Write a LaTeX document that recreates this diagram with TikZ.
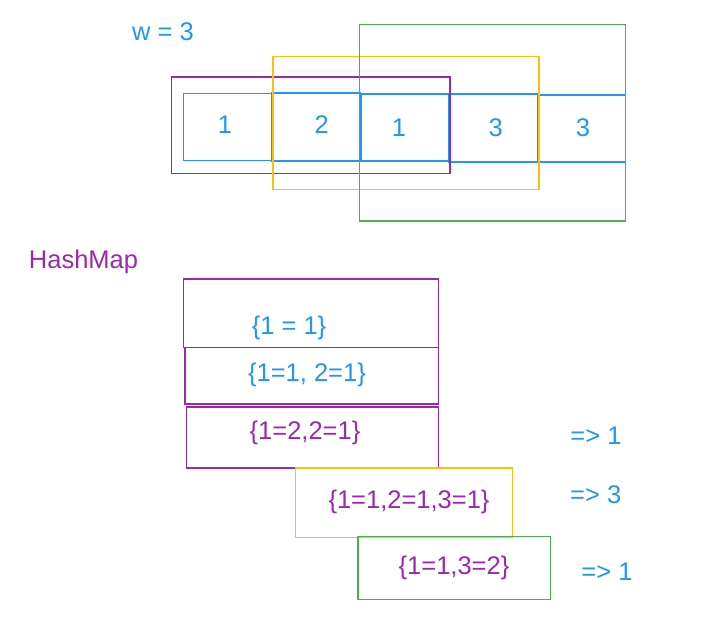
\documentclass[tikz,border=0pt]{standalone}
\usepackage{fontspec}
\setmainfont{Liberation Sans}
\definecolor{cblue}{HTML}{2196F3}
\definecolor{cpurple}{HTML}{9C27B0}
\definecolor{cyellow}{HTML}{FFC107}
\definecolor{cgreen}{HTML}{4CAF50}
\tikzset{
  box/.style={draw=#1, line width=1.4pt, rectangle, inner sep=0pt, outer sep=0pt},
  txt/.style={text=#1, inner sep=0pt, font=\fontsize{25.5}{30}\selectfont},
}
\begin{document}
\begin{tikzpicture}[x=1pt,y=-1pt]
\useasboundingbox (0,0) rectangle (713,631);
% title
\node[txt=cblue] (w) at (163,31.7) {w = 3};
% cells
\node[box=cblue, minimum width=88.4pt, minimum height=67.4pt] (c1) at (227.5,127) {};
\node[box=cblue, minimum width=88.7pt, minimum height=68pt] (c2) at (316.3,127) {};
\node[box=cblue, minimum width=88pt, minimum height=67pt] (c3) at (405,127.5) {};
\node[box=cblue, minimum width=88.7pt, minimum height=68pt] (c4) at (493.3,128) {};
\node[box=cblue, minimum width=87.7pt, minimum height=67pt] (c5) at (581.8,128.5) {};
\node[txt=cblue] (t1) at (225,125) {1};
\node[txt=cblue] (t2) at (321.7,125) {2};
\node[txt=cblue] (t3) at (399,128) {1};
\node[txt=cblue] (t4) at (495.7,128) {3};
\node[txt=cblue] (t5) at (583,128) {3};
% windows
\node[box=cpurple, minimum width=278.3pt, minimum height=96.3pt] (wp) at (310.8,125.2) {};
\node[box=cyellow, minimum width=266pt, minimum height=132.6pt] (wy) at (406,123) {};
\node[box=cgreen, minimum width=266pt, minimum height=196.7pt] (wg) at (492.7,122.7) {};
% hashmap
\node[txt=cpurple] (hm) at (83.5,262) {HashMap};
\node[box=cpurple, minimum width=255.4pt, minimum height=68.3pt] (ba) at (311,313.2) {};
\node[box=cpurple, minimum width=253.7pt, minimum height=56.3pt] (bb) at (311.9,375.9) {};
\node[box=cpurple, minimum width=252pt, minimum height=61pt] (bc) at (312.7,437.5) {};
\node[box=cyellow, minimum width=216.6pt, minimum height=69.3pt] (bd) at (404,502.7) {};
\node[box=cgreen, minimum width=192.7pt, minimum height=62.6pt] (be) at (454.4,568) {};
\node[txt=cblue] (la) at (289,328) {\{1 = 1\}};
\node[txt=cblue] (lb) at (307,375) {\{1=1, 2=1\}};
\node[txt=cpurple] (lc) at (305,433) {\{1=2,2=1\}};
\node[txt=cpurple] (ld) at (409,501.7) {\{1=1,2=1,3=1\}};
\node[txt=cpurple] (le) at (454,568) {\{1=1,3=2\}};
\node[txt=cblue] (r1) at (596,436) {=> 1};
\node[txt=cblue] (r2) at (595.7,495) {=> 3};
\node[txt=cblue] (r3) at (607,571.7) {=> 1};
\end{tikzpicture}
\end{document}
